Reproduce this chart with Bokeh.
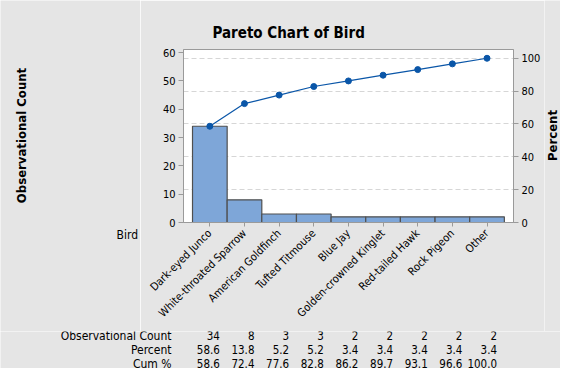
import math
from bokeh.plotting import figure
from bokeh.models import Range1d, LinearAxis, FixedTicker, Grid, Title, Plot
from bokeh.layouts import column, row
from bokeh.core.properties import value
from bokeh.embed import file_html
from bokeh.resources import INLINE

# ---- data ----
birds = ["Dark-eyed Junco", "White-throated Sparrow", "American Goldfinch",
         "Tufted Titmouse", "Blue Jay", "Golden-crowned Kinglet",
         "Red-tailed Hawk", "Rock Pigeon", "Other"]
counts = [34, 8, 3, 3, 2, 2, 2, 2, 2]
percent = [58.6, 13.8, 5.2, 5.2, 3.4, 3.4, 3.4, 3.4, 3.4]
cum_pct = [58.6, 72.4, 77.6, 82.8, 86.2, 89.7, 93.1, 96.6, 100.0]
count_ticks = [0, 10, 20, 30, 40, 50, 60]
pct_ticks = [0, 20, 40, 60, 80, 100]
grid_ticks = [20, 40, 60, 80, 100]
row_labels = ["Observational Count", "Percent", "Cum %"]
title_text = "Pareto Chart of Bird"
ylabel_left = "Observational Count"
ylabel_right = "Percent"
xlabel = "Bird"

FONT = "DejaVu Sans Condensed"
BG = "#e5e5e5"
W, H = 560, 368
LEFT_W, RIGHT_W = 140, 16          # side strips
TOP_H = 331                        # chart strip height
TABLE_H = H - TOP_H                # table strip height
FRAME_L, FRAME_W, FRAME_T, FRAME_H = 183, 330, 49, 173
total = sum(counts)
ymax = 61.1
X0, X1 = -0.76, 8.764
SX = FRAME_W / (X1 - X0)
idx = list(range(len(birds)))

NOALIGN = {"frame_align": False} if "frame_align" in Plot.properties() else {}


def blank(width, height, xr, yr):
    f = figure(width=width, height=height, x_range=xr, y_range=yr,
               output_backend="svg", toolbar_location=None,
               min_border=0, background_fill_color=BG, border_fill_color=BG,
               outline_line_color=None, **NOALIGN)
    f.axis.visible = False
    f.grid.visible = False
    return f

# ---- main chart ----
MAIN_W = W - LEFT_W - RIGHT_W
p = figure(frame_width=FRAME_W, frame_height=FRAME_H,
           min_border_left=FRAME_L - LEFT_W,
           min_border_right=MAIN_W - (FRAME_L - LEFT_W) - FRAME_W,
           min_border_top=FRAME_T,
           min_border_bottom=TOP_H - FRAME_T - FRAME_H,
           x_range=Range1d(X0, X1), y_range=Range1d(0, ymax),
           output_backend="svg", toolbar_location=None,
           background_fill_color="white", border_fill_color=BG,
           outline_line_color="#9a9a9a", **NOALIGN)
p.extra_y_ranges = {"pct": Range1d(0, ymax * 100.0 / total)}

p.add_layout(Title(text=title_text, text_font=FONT, text_font_size="15px",
                   text_font_style="bold", text_color="black", align="left",
                   offset=29, standoff=16), "above")

p.xgrid.visible = False
p.ygrid.visible = False
p.add_layout(Grid(dimension=1, ticker=FixedTicker(ticks=grid_ticks),
                  y_range_name="pct", grid_line_color="#d6d6d6",
                  grid_line_dash="5 3"))

p.vbar(x=idx, top=counts, bottom=0, width=1.0,
       fill_color="#7ea6d8", line_color="#4f4f4f", line_width=1.2)
p.line(x=idx, y=cum_pct, y_range_name="pct", line_color="#0a56a8", line_width=1.2)
p.scatter(x=idx, y=cum_pct, y_range_name="pct", size=6,
          fill_color="#0a56a8", line_color="#0a56a8")


def style_axis(ax):
    ax.axis_line_color = "#9a9a9a"
    ax.major_tick_line_color = "#9a9a9a"
    ax.major_tick_out = 5
    ax.major_tick_in = 0
    ax.minor_tick_line_color = None
    ax.major_label_text_font = FONT
    ax.major_label_text_font_size = "11px"
    ax.major_label_text_color = "black"
    ax.major_label_standoff = 3

p.yaxis.ticker = FixedTicker(ticks=count_ticks)
style_axis(p.yaxis[0])

right = LinearAxis(y_range_name="pct", ticker=FixedTicker(ticks=pct_ticks))
style_axis(right)
p.add_layout(right, "right")

p.xaxis.ticker = FixedTicker(ticks=idx)
p.xaxis.major_label_overrides = {i: b for i, b in zip(idx, birds)}
style_axis(p.xaxis[0])
p.xaxis.major_tick_out = 4
p.xaxis.major_label_orientation = math.pi / 4
p.xaxis.major_label_standoff = 5

# ---- left strip: y label and "Bird" (window pixel coordinates) ----
left = blank(LEFT_W, TOP_H, Range1d(0, LEFT_W), Range1d(TOP_H, 0))
left.text(x=[20.7], y=[135], text=[ylabel_left], angle=math.pi / 2,
          text_font=value(FONT), text_font_size="13px", text_font_style="bold",
          text_align="center", text_baseline="middle", text_color="black")
left.text(x=[116], y=[234], text=[xlabel], text_font=value(FONT),
          text_font_size="12px", text_align="left", text_baseline="middle",
          text_color="black")

# ---- right strip: "Percent" ----
rs = blank(RIGHT_W, TOP_H, Range1d(W - RIGHT_W, W), Range1d(TOP_H, 0))
rs.text(x=[551.5], y=[135], text=[ylabel_right], angle=math.pi / 2,
        text_font=value(FONT), text_font_size="13px", text_font_style="bold",
        text_align="center", text_baseline="middle", text_color="black")

# ---- table strip, x in the chart's category units ----
tx0 = X0 - FRAME_L / SX
tab = blank(W, TABLE_H, Range1d(tx0, tx0 + W / SX), Range1d(H, TOP_H))
row_y = [335, 349, 363]
tab.text(x=[X0 - 12 / SX] * 3, y=row_y, text=row_labels,
         text_font=value(FONT), text_font_size="12px", text_align="right",
         text_baseline="middle", text_color="black")
rows = [[str(c) for c in counts],
        ["%.1f" % v for v in percent],
        ["%.1f" % v for v in cum_pct]]
for ry, vals in zip(row_y, rows):
    tab.text(x=idx, y=[ry] * len(idx), text=vals, x_offset=10,
             text_font=value(FONT), text_font_size="11.5px", text_align="right",
             text_baseline="middle", text_color="black")

layout = column(row(left, p, rs, spacing=0), tab, spacing=0)
open("out.html", "w").write(file_html(layout, INLINE))
